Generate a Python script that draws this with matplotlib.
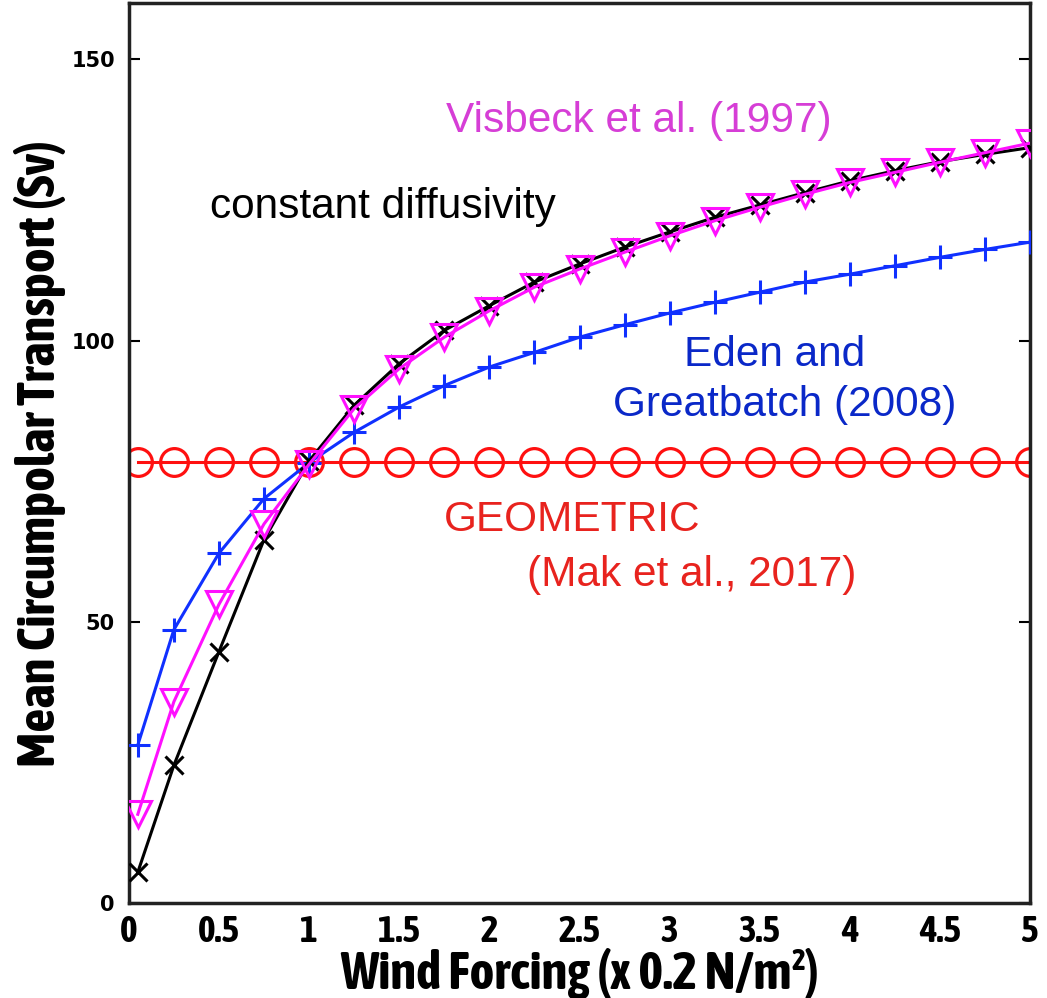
import numpy as np
import matplotlib
matplotlib.use('Agg')
from matplotlib import pyplot as plt
from matplotlib import font_manager as fm

# wind forcing (x 0.2 N/m^2)
wind = [0.05, 0.25, 0.5, 0.75, 1.0, 1.25, 1.5, 1.75, 2.0, 2.25, 2.5,
        2.75, 3.0, 3.25, 3.5, 3.75, 4.0, 4.25, 4.5, 4.75, 5.0]

# mean circumpolar transport (Sv)
const_diff = [5.5, 24.5, 44.7, 64.6, 78.6, 88.5, 95.9, 101.8, 106.2, 110.4, 113.6,
              116.6, 119.3, 121.9, 124.1, 126.3, 128.4, 130.2, 131.8, 133.1, 134.3]
visbeck = [15.8, 35.8, 53.1, 67.4, 78.0, 87.9, 95.0, 100.6, 105.3, 109.5, 112.7,
           115.7, 118.6, 121.3, 123.7, 126.0, 128.1, 129.9, 131.7, 133.4, 135.1]
eden = [28.1, 48.6, 62.2, 71.9, 78.3, 83.7, 88.2, 92.0, 95.3, 97.9, 100.6,
        102.8, 104.9, 106.8, 108.6, 110.4, 111.8, 113.3, 114.8, 116.2, 117.5]
geometric = [78.5] * len(wind)

xtick_vals = [0, 0.5, 1, 1.5, 2, 2.5, 3, 3.5, 4, 4.5, 5]
xtick_labels = ['0', '0.5', '1', '1.5', '2', '2.5', '3', '3.5', '4', '4.5', '5']
ytick_vals = [0, 50, 100, 150]

# look for an upright condensed face that comes in bold
cond = []
for f in fm.fontManager.ttflist:
    nm = f.name
    w = f.weight if isinstance(f.weight, int) else 700 if 'bold' in str(f.weight).lower() else 400
    if ('Condensed' in nm or 'Narrow' in nm or f.stretch != 'normal') and w >= 600 \
            and f.style == 'normal':
        cond.append(nm)
narrow = sorted(set(cond)) + ['Liberation Sans', 'DejaVu Sans']
plain = ['Liberation Sans', 'DejaVu Sans']

fig = plt.figure(figsize=(10.47, 9.98), dpi=100)
ax = fig.add_axes([0.123, 0.095, 0.861, 0.902])

ax.plot(wind, geometric, color='#ff1010', lw=2.2, marker='o', ms=20,
        mfc='none', mec='#ff1010', mew=2.3, zorder=2)
ax.plot(wind, eden, color='#1030ff', lw=2.2, marker='+', ms=17, mew=2.2, zorder=3)
ax.plot(wind, const_diff, color='black', lw=2.2, marker='x', ms=13, mew=2.2, zorder=4)
ax.plot(wind, visbeck, color='#ff10ff', lw=2.2, marker='v', ms=19,
        mfc='none', mec='#ff10ff', mew=2.2, zorder=5)

ax.set_xlim(0, 5)
ax.set_ylim(0, 160)

ax.set_xticks(xtick_vals)
ax.set_xticklabels(xtick_labels, family=narrow, fontsize=27, fontweight='bold')
ax.tick_params(axis='x', which='major', length=0, pad=8)
ax.set_xticks([1, 2, 3, 4], minor=True)
ax.tick_params(axis='x', which='minor', direction='in', length=8, width=1.5,
               top=True, bottom=True)

ax.set_yticks(ytick_vals)
ax.set_yticklabels([str(v) for v in ytick_vals], fontsize=15, fontweight='bold')
ax.tick_params(axis='y', direction='in', length=8, width=1.5, left=True, right=True, pad=10)

for s in ax.spines.values():
    s.set_linewidth(2.5)
    s.set_color('#222222')

ax.set_xlabel('Wind Forcing (x 0.2 N/m²)', family=narrow,
              fontsize=38, fontweight='bold', labelpad=-2)
ax.set_ylabel('Mean Circumpolar Transport (Sv)', family=narrow,
              fontsize=38, fontweight='bold', labelpad=4)

ax.text(2.83, 139, 'Visbeck et al. (1997)', color='#d63ed6', fontsize=30.5,
        family=plain, ha='center', va='center')
ax.text(1.41, 123.7, 'constant diffusivity', color='black', fontsize=30.5,
        family=plain, ha='center', va='center')
ax.text(3.58, 97.5, 'Eden and', color='#0a28c8', fontsize=30.5,
        family=plain, ha='center', va='center')
ax.text(3.64, 88.6, 'Greatbatch (2008)', color='#0a28c8', fontsize=30.5,
        family=plain, ha='center', va='center')
ax.text(2.46, 68.1, 'GEOMETRIC', color='#e8231e', fontsize=30.5,
        family=plain, ha='center', va='center')
ax.text(3.12, 58.4, '(Mak et al., 2017)', color='#e8231e', fontsize=30.5,
        family=plain, ha='center', va='center')

plt.savefig('out.png', dpi=100)
plt.close()
